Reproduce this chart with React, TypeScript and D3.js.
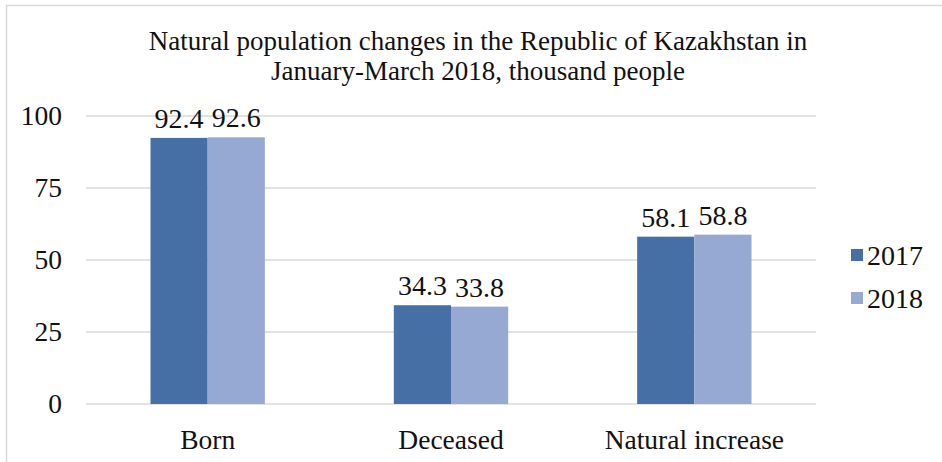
import React from 'react';
import * as d3 from 'd3';

const categories = ['Born', 'Deceased', 'Natural increase'];
const seriesNames = ['2017', '2018'];
const values2017 = [92.4, 34.3, 58.1];
const values2018 = [92.6, 33.8, 58.8];
const yTicks = [0, 25, 50, 75, 100];
const titleLines = [
  'Natural population changes in the Republic of Kazakhstan in',
  'January-March 2018, thousand people',
];
const colors = ['#4670a5', '#95a9d3'];

const W = 942;
const H = 462;
const txt = { fontFamily: "'Liberation Serif'" };

function App() {
  const margin = { top: 116, right: 126, bottom: 58, left: 86 };
  const innerW = W - margin.left - margin.right;
  const innerH = H - margin.top - margin.bottom;

  const x0 = d3.scaleBand().domain(categories).range([0, innerW]).paddingInner(0.53).paddingOuter(0.265);
  const x1 = d3.scaleBand().domain(seriesNames).range([0, x0.bandwidth()]);
  const y = d3.scaleLinear().domain([0, 100]).range([innerH, 0]);

  const series = [values2017, values2018];

  return (
    <svg width={W} height={H} style={{ position: 'absolute', left: 0, top: 0, background: '#fff' }}>
      <rect x={6.5} y={5.5} width={W} height={H} fill="#fff" stroke="#d9d9d9" strokeWidth={1.5} />
      {titleLines.map((t, i) => (
        <text key={i} x={478} y={50 + i * 30} textAnchor="middle" fontSize={27} fill="#111" style={txt}>
          {t}
        </text>
      ))}
      <g transform={`translate(${margin.left},${margin.top})`}>
        {yTicks.map((t) => (
          <g key={t}>
            <line x1={0} x2={innerW} y1={y(t)} y2={y(t)} stroke="#d9d9d9" strokeWidth={1.5} />
            <text x={-24} y={y(t)} dy="0.33em" textAnchor="end" fontSize={27.5} fill="#111" style={txt}>
              {t}
            </text>
          </g>
        ))}
        {categories.map((c, ci) => (
          <g key={c} transform={`translate(${x0(c)},0)`}>
            {seriesNames.map((s, si) => {
              const v = series[si][ci];
              return (
                <g key={s}>
                  <rect x={x1(s)} y={y(v)} width={x1.bandwidth()} height={innerH - y(v)} fill={colors[si]} />
                  <text
                    x={(x1(s) as number) + x1.bandwidth() / 2}
                    y={y(v) - 10}
                    textAnchor="middle"
                    fontSize={28}
                    fill="#111"
                    style={txt}
                  >
                    {v.toFixed(1)}
                  </text>
                </g>
              );
            })}
            <text x={x0.bandwidth() / 2} y={innerH + 45} textAnchor="middle" fontSize={27.5} fill="#111" style={txt}>
              {c}
            </text>
          </g>
        ))}
      </g>
      {seriesNames.map((s, i) => (
        <g key={s} transform={`translate(851,${249 + i * 43})`}>
          <rect width={12} height={12} fill={colors[i]} />
          <text x={16} y={6} dy="0.35em" fontSize={28} fill="#111" style={txt}>
            {s}
          </text>
        </g>
      ))}
    </svg>
  );
}

export default App;
